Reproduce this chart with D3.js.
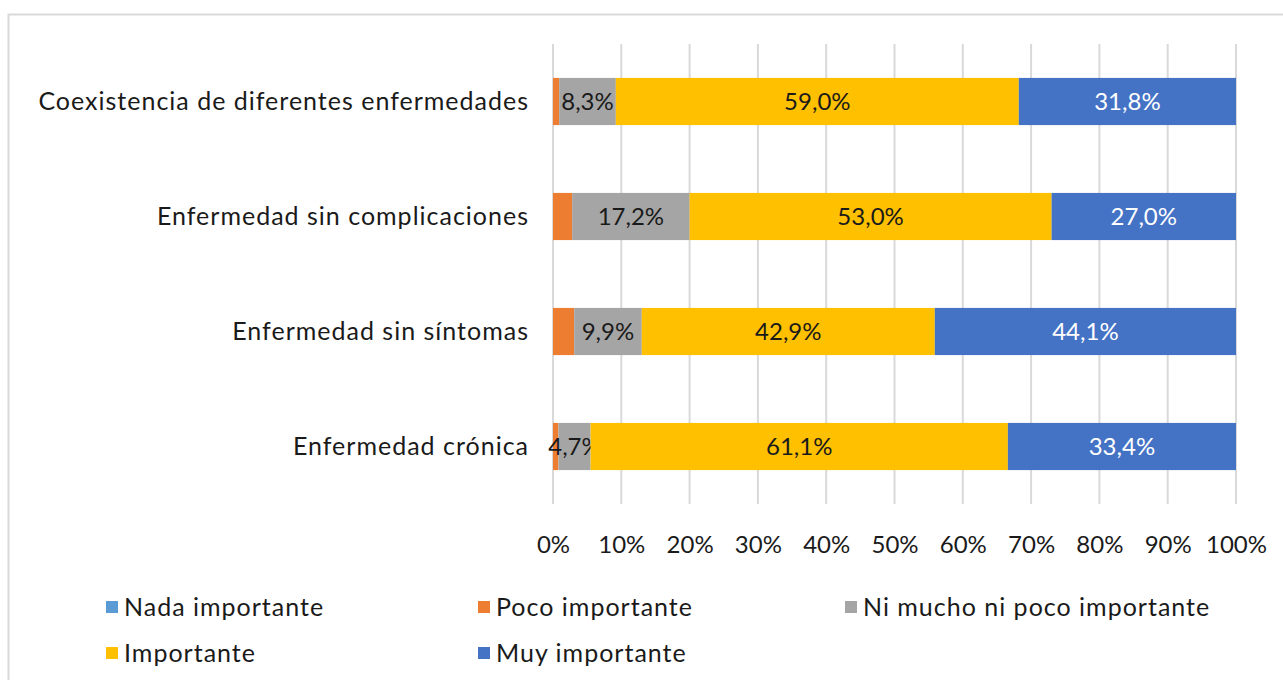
<!DOCTYPE html>
<html>
<head>
<meta charset="utf-8">
<script src="https://cdn.jsdelivr.net/npm/d3@7"></script>
<style>
  body { margin: 0; background: #fff; }
  svg text { font-family: "Lato", "Open Sans", sans-serif; }
</style>
</head>
<body>
<div id="graph1"></div>
<script>
// valores (porcentajes)
var categories = [
    "Coexistencia de diferentes enfermedades",
    "Enfermedad sin complicaciones",
    "Enfermedad sin síntomas",
    "Enfermedad crónica"
];
var seriesNames = ["Nada importante", "Poco importante", "Ni mucho ni poco importante", "Importante", "Muy importante"];
var nada       = [0.0, 0.0, 0.0, 0.0];
var poco       = [0.9, 2.8, 3.1, 0.8];
var niMuchoNi  = [8.3, 17.2, 9.9, 4.7];
var importante = [59.0, 53.0, 42.9, 61.1];
var muy        = [31.8, 27.0, 44.1, 33.4];
var xTicks = [0, 10, 20, 30, 40, 50, 60, 70, 80, 90, 100];

var colors = ["#5B9BD5", "#ED7D31", "#A5A5A5", "#FFC000", "#4472C4"];
var labelColors = [null, null, "#1a1a1a", "#1a1a1a", "#ffffff"];

var w = 1283;
var h = 680;
var margin = {top: 44, left: 553, right: 47, bottom: 176};

var keys = ["nada", "poco", "ni", "imp", "muy"];
var rows = categories.map(function(c, i){
    return {cat: c, nada: nada[i], poco: poco[i], ni: niMuchoNi[i], imp: importante[i], muy: muy[i]};
});
var stacked = d3.stack().keys(keys)(rows);

var svg = d3.select("#graph1").append("svg")
    .attr("width", w)
    .attr("height", h);

// marco del grafico
svg.append("rect")
    .attr("x", 8.5)
    .attr("y", 14.5)
    .attr("width", 1300)
    .attr("height", 700)
    .attr("fill", "#fff")
    .attr("stroke", "#d9d9d9")
    .attr("stroke-width", 2);

var x = d3.scaleLinear()
    .domain([0, 100])
    .range([margin.left, w - margin.right]);
var y = d3.scaleBand()
    .domain(categories)
    .range([margin.top, h - margin.bottom])
    .paddingInner(0.59)
    .paddingOuter(0.295);

// lineas de division
svg.append("g")
    .selectAll("line")
    .data(xTicks)
    .enter()
    .append("line")
    .attr("x1", function(d){ return x(d); })
    .attr("x2", function(d){ return x(d); })
    .attr("y1", margin.top)
    .attr("y2", h - margin.bottom)
    .attr("stroke", "#d9d9d9")
    .attr("stroke-width", 2);

// eje x
var xAxis = d3.axisBottom(x)
    .tickValues(xTicks)
    .tickSize(0)
    .tickPadding(0)
    .tickFormat(function(d){ return d + "%"; });
var gx = svg.append("g")
    .attr("transform", "translate(0," + 545 + ")")
    .call(xAxis);
gx.select(".domain").remove();
gx.selectAll("text")
    .attr("dy", "0.35em")
    .attr("y", 0)
    .style("font-size", "24px")
    .style("fill", "#1a1a1a");

// eje y (categorias)
var yAxis = d3.axisLeft(y).tickSize(0).tickPadding(0);
var gy = svg.append("g")
    .attr("transform", "translate(" + 529 + ",0)")
    .call(yAxis);
gy.select(".domain").remove();
gy.selectAll("text")
    .style("font-size", "25px")
    .style("letter-spacing", "1px")
    .style("fill", "#1a1a1a");

// barras
var layers = svg.append("g")
    .selectAll("g.layer")
    .data(stacked)
    .enter()
    .append("g")
    .classed("layer", true)
    .attr("fill", function(d, i){ return colors[i]; });

layers.selectAll("rect")
    .data(function(d){ return d; })
    .enter()
    .append("rect")
    .attr("x", function(d){ return x(d[0]); })
    .attr("width", function(d){ return x(d[1]) - x(d[0]); })
    .attr("y", function(d){ return y(d.data.cat); })
    .attr("height", y.bandwidth());

// etiquetas de datos
var fmt = function(v){ return v.toFixed(1).replace(".", ",") + "%"; };
layers.filter(function(d, i){ return labelColors[i] !== null; })
    .selectAll("text")
    .data(function(d){ return d; })
    .enter()
    .append("text")
    .attr("x", function(d){ return (x(d[0]) + x(d[1])) / 2; })
    .attr("y", function(d){ return y(d.data.cat) + y.bandwidth() / 2; })
    .attr("dy", "0.35em")
    .attr("text-anchor", "middle")
    .style("font-size", "24px")
    .style("fill", function(){ return labelColors[keys.indexOf(d3.select(this.parentNode).datum().key)]; })
    .text(function(d){ return fmt(d[1] - d[0]); });

// leyenda
var legendPos = [[106, 607], [478, 607], [845, 607], [106, 653], [478, 653]];
var legend = svg.append("g")
    .selectAll("g")
    .data(seriesNames)
    .enter()
    .append("g")
    .attr("transform", function(d, i){ return "translate(" + legendPos[i][0] + "," + legendPos[i][1] + ")"; });
legend.append("rect")
    .attr("x", 0)
    .attr("y", -6)
    .attr("width", 12)
    .attr("height", 12)
    .attr("fill", function(d, i){ return colors[i]; });
legend.append("text")
    .attr("x", 18)
    .attr("y", 0)
    .attr("dy", "0.35em")
    .style("font-size", "25px")
    .style("letter-spacing", "1px")
    .style("fill", "#1a1a1a")
    .text(function(d){ return d; });
</script>
</body>
</html>
